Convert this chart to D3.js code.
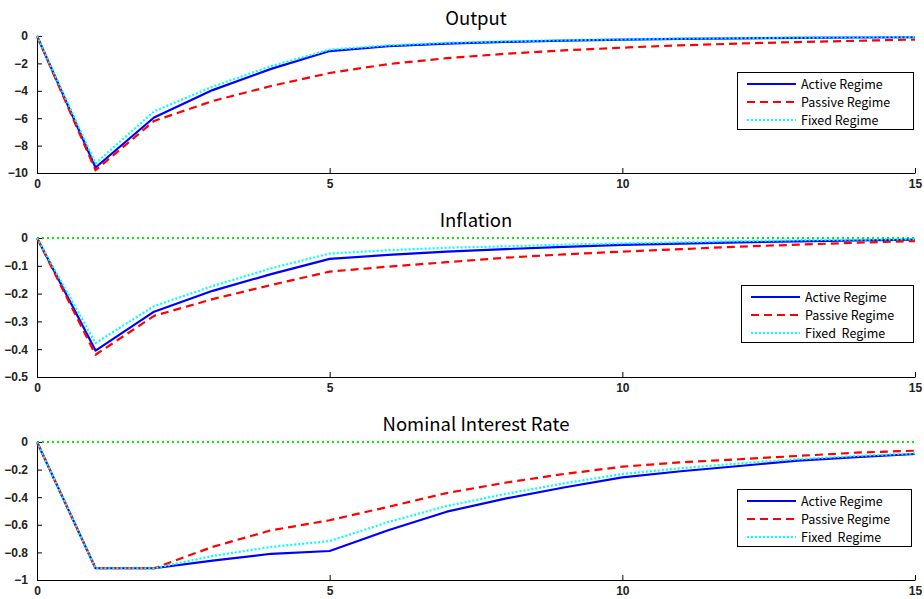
<!DOCTYPE html>
<html>
<head>
<meta charset="utf-8">
<script src="https://cdn.jsdelivr.net/npm/d3@7"></script>
<style>
  html, body { margin: 0; padding: 0; background: #fff; }
  svg { display: block; }
  text { font-family: "Liberation Sans", Arial, sans-serif; }
  .title { font-family: "Noto Sans CJK JP", "Noto Sans", sans-serif; font-size: 18.5px; }
  .legend text { font-family: "Noto Sans CJK JP", "Noto Sans", sans-serif; font-size: 12.5px; white-space: pre; }
</style>
</head>
<body>
<svg id="chart" width="924" height="599"></svg>
<script>
// Impulse-response horizons
const periods = d3.range(0, 16);

// Output
const outputActive  = [0, -9.6, -5.95, -3.95, -2.4, -1.1, -0.75, -0.56, -0.43, -0.34, -0.27, -0.21, -0.17, -0.14, -0.11, -0.09];
const outputPassive = [0, -9.8, -6.2, -4.75, -3.65, -2.7, -2.05, -1.62, -1.3, -1.05, -0.85, -0.68, -0.55, -0.44, -0.35, -0.26];
const outputFixed   = [0, -9.3, -5.5, -3.7, -2.2, -1.0, -0.68, -0.5, -0.39, -0.31, -0.24, -0.19, -0.15, -0.12, -0.1, -0.08];

// Inflation
const inflActive  = [0, -0.405, -0.265, -0.19, -0.13, -0.075, -0.061, -0.049, -0.04, -0.032, -0.025, -0.02, -0.016, -0.012, -0.009, -0.006];
const inflPassive = [0, -0.42, -0.28, -0.22, -0.169, -0.121, -0.103, -0.087, -0.071, -0.059, -0.049, -0.04, -0.031, -0.024, -0.017, -0.011];
const inflFixed   = [0, -0.378, -0.245, -0.173, -0.109, -0.056, -0.044, -0.035, -0.03, -0.024, -0.019, -0.015, -0.011, -0.008, -0.006, -0.004];

// Nominal interest rate
const rateActive  = [0, -0.915, -0.915, -0.86, -0.81, -0.79, -0.64, -0.505, -0.41, -0.33, -0.256, -0.212, -0.174, -0.135, -0.11, -0.087];
const ratePassive = [0, -0.915, -0.915, -0.76, -0.64, -0.567, -0.47, -0.37, -0.295, -0.232, -0.179, -0.147, -0.125, -0.101, -0.077, -0.063];
const rateFixed   = [0, -0.915, -0.915, -0.826, -0.76, -0.718, -0.58, -0.464, -0.377, -0.3, -0.232, -0.19, -0.155, -0.125, -0.101, -0.082];

const xTicks = [0, 5, 10, 15];
const outputTicks = [0, -2, -4, -6, -8, -10];
const inflTicks = [0, -0.1, -0.2, -0.3, -0.4, -0.5];
const rateTicks = [0, -0.2, -0.4, -0.6, -0.8, -1];

const seriesStyles = [
  { name: "Active Regime",  color: "#0000ff", dash: null },
  { name: "Passive Regime", color: "#ff0000", dash: "8,5" },
  { name: "Fixed Regime",   color: "#00ffff", dash: "2,2" }
];

const panels = [
  { title: "Output", top: 36, bottom: 173, domain: [-10, 0], ticks: outputTicks,
    series: [outputActive, outputPassive, outputFixed], zeroLine: false,
    legend: { x: 737, y: 72, w: 176, h: 57 }, labels: ["Active Regime", "Passive Regime", "Fixed Regime"] },
  { title: "Inflation", top: 238, bottom: 377, domain: [-0.5, 0], ticks: inflTicks,
    series: [inflActive, inflPassive, inflFixed], zeroLine: true,
    legend: { x: 741, y: 285, w: 172, h: 57 }, labels: ["Active Regime", "Passive Regime", "Fixed  Regime"] },
  { title: "Nominal Interest Rate", top: 442, bottom: 580, domain: [-1, 0], ticks: rateTicks,
    series: [rateActive, ratePassive, rateFixed], zeroLine: true,
    legend: { x: 737, y: 489, w: 174, h: 57 }, labels: ["Active Regime", "Passive Regime", "Fixed  Regime"] }
];

const svg = d3.select("#chart");
const left = 37, right = 915;
const x = d3.scaleLinear().domain([0, 15]).range([left, right]);
const fmt = v => (v === 0 ? "0" : d3.format("")(v).replace("-", "\u2212"));

panels.forEach(p => {
  const y = d3.scaleLinear().domain(p.domain).range([p.bottom, p.top]);
  const g = svg.append("g");

  // title
  g.append("text").attr("class", "title")
    .attr("x", (left + right) / 2).attr("y", p.top - 11)
    .attr("text-anchor", "middle").text(p.title);

  // bottom axis, ticks pointing inward
  const xAxis = d3.axisBottom(x).tickValues(xTicks).tickSizeInner(-5).tickSizeOuter(0).tickPadding(6);
  const gx = g.append("g").attr("transform", `translate(0,${p.bottom})`).call(xAxis);
  gx.select(".domain").attr("stroke", "#000").attr("stroke-width", 1);
  gx.selectAll(".tick line").attr("stroke", "#000");
  gx.selectAll(".tick text").attr("font-size", 12).attr("font-weight", "bold").attr("fill", "#222")
    .attr("font-family", "Liberation Sans, Arial, sans-serif");

  // left axis, ticks pointing inward
  const yAxis = d3.axisLeft(y).tickValues(p.ticks).tickSizeInner(-5).tickSizeOuter(0).tickPadding(9).tickFormat(fmt);
  const gy = g.append("g").attr("transform", `translate(${left},0)`).call(yAxis);
  gy.select(".domain").attr("stroke", "#000").attr("stroke-width", 1);
  gy.selectAll(".tick line").attr("stroke", "#000");
  gy.selectAll(".tick text").attr("font-size", 12).attr("font-weight", "bold").attr("fill", "#222")
    .attr("font-family", "Liberation Sans, Arial, sans-serif");

  // zero reference line
  if (p.zeroLine) {
    g.append("line").attr("x1", x(0)).attr("x2", x(15)).attr("y1", y(0)).attr("y2", y(0))
      .attr("stroke", "#00ee00").attr("stroke-width", 2).attr("stroke-dasharray", "2,3");
  }

  const line = d3.line().x((d, i) => x(periods[i])).y(d => y(d));
  p.series.forEach((vals, k) => {
    const st = seriesStyles[k];
    g.append("path").datum(vals).attr("d", line)
      .attr("fill", "none").attr("stroke", st.color).attr("stroke-width", 2.2)
      .attr("stroke-linejoin", "round")
      .attr("stroke-dasharray", st.dash);
  });

  // legend
  const L = p.legend;
  const lg = g.append("g").attr("class", "legend");
  lg.append("rect").attr("x", L.x + 0.5).attr("y", L.y + 0.5).attr("width", L.w).attr("height", L.h)
    .attr("fill", "#fff").attr("stroke", "#000").attr("stroke-width", 1);
  seriesStyles.forEach((st, k) => {
    const ry = L.y + 12 + k * 18;
    lg.append("line").attr("x1", L.x + 10).attr("x2", L.x + 59).attr("y1", ry).attr("y2", ry)
      .attr("stroke", st.color).attr("stroke-width", 2.2).attr("stroke-dasharray", st.dash);
    lg.append("text").attr("x", L.x + 64).attr("y", ry + 4.5).attr("fill", "#000")
      .attr("xml:space", "preserve").text(p.labels[k]);
  });
});
</script>
</body>
</html>
